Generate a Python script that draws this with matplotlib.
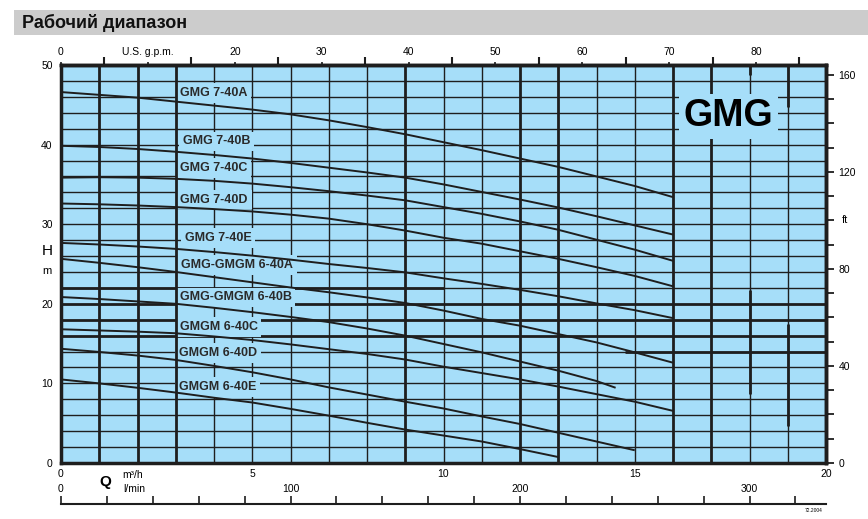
import matplotlib
matplotlib.use('Agg')
import matplotlib.pyplot as plt
from matplotlib.patches import Rectangle

plt.rcParams['font.family'] = ['Liberation Sans', 'DejaVu Sans']

# Q in m3/h, H in m
q_16 = [0, 1, 2, 3, 4, 5, 6, 7, 8, 9, 10, 11, 12, 13, 14, 15, 16]
h_7_40a = [46.6, 46.25, 45.9, 45.4, 44.9, 44.4, 43.8, 43.05, 42.2, 41.3, 40.3, 39.3, 38.25, 37.2, 36.0, 34.8, 33.4]
h_7_40b = [39.85, 39.7, 39.45, 39.1, 38.7, 38.25, 37.7, 37.1, 36.5, 35.85, 35.0, 34.05, 33.1, 32.1, 31.0, 29.85, 28.7]
h_7_40c = [35.85, 35.9, 35.85, 35.7, 35.45, 35.1, 34.65, 34.15, 33.6, 33.0, 32.15, 31.3, 30.35, 29.3, 28.05, 26.8, 25.4]
h_7_40d = [32.6, 32.5, 32.35, 32.15, 31.9, 31.6, 31.2, 30.7, 30.0, 29.2, 28.3, 27.55, 26.6, 25.65, 24.6, 23.5, 22.2]
h_7_40e = [27.65, 27.45, 27.2, 26.9, 26.5, 26.05, 25.55, 25.0, 24.5, 23.95, 23.2, 22.5, 21.75, 20.95, 20.05, 19.2, 18.2]
h_6_40a = [25.65, 25.15, 24.6, 24.0, 23.35, 22.7, 22.05, 21.45, 20.8, 20.1, 19.15, 18.1, 17.25, 16.2, 15.15, 13.9, 12.6]
q_6_40b = [0, 1, 2, 3, 4, 5, 6, 7, 8, 9, 10, 11, 12, 13, 14, 14.5]
h_6_40b = [20.85, 20.6, 20.3, 20.0, 19.5, 18.95, 18.35, 17.7, 16.9, 16.0, 14.95, 13.9, 12.75, 11.6, 10.3, 9.45]
h_6_40c = [16.8, 16.65, 16.5, 16.3, 15.9, 15.45, 14.9, 14.3, 13.7, 13.0, 12.1, 11.3, 10.5, 9.6, 8.65, 7.7, 6.55]
q_6_40d = [0, 1, 2, 3, 4, 5, 6, 7, 8, 9, 10, 11, 12, 13, 14, 15]
h_6_40d = [14.35, 13.95, 13.5, 12.95, 12.2, 11.4, 10.5, 9.5, 8.6, 7.7, 6.85, 5.85, 4.9, 3.8, 2.7, 1.6]
q_6_40e = [0, 1, 2, 3, 4, 5, 6, 7, 8, 9, 10, 11, 12, 13]
h_6_40e = [10.5, 10.0, 9.45, 8.85, 8.2, 7.6, 6.8, 5.95, 5.05, 4.2, 3.45, 2.7, 1.75, 0.75]

curves = [
    ("GMG 7-40A", q_16, h_7_40a, 46.5),
    ("GMG 7-40B", q_16, h_7_40b, 40.4),
    ("GMG 7-40C", q_16, h_7_40c, 37.05),
    ("GMG 7-40D", q_16, h_7_40d, 33.1),
    ("GMG 7-40E", q_16, h_7_40e, 28.25),
    ("GMG-GMGM 6-40A", q_16, h_6_40a, 24.85),
    ("GMG-GMGM 6-40B", q_6_40b, h_6_40b, 20.8),
    ("GMGM 6-40C", q_16, h_6_40c, 17.1),
    ("GMGM 6-40D", q_6_40d, h_6_40d, 13.8),
    ("GMGM 6-40E", q_6_40e, h_6_40e, 9.55),
]
label_q = [3.12, 3.19, 3.12, 3.12, 3.23, 3.14, 3.1, 3.1, 3.08, 3.08]

gpm_ticks = [0, 10, 20, 30, 40, 50, 60, 70, 80]
gpm_labels = ['0', 'U.S. g.p.m.', '20', '30', '40', '50', '60', '70', '80']
lmin_labels = [0, 100, 200, 300]

bg = '#a6def9'
ink = '#1e1e1e'

W, Hpx = 868, 519
fig = plt.figure(figsize=(W / 100, Hpx / 100), dpi=100)

# barra del titolo
fig.patches.append(Rectangle((14 / W, 1 - 35 / Hpx), (W - 14) / W, 25 / Hpx,
                             transform=fig.transFigure, fc='#cccccc', ec='none'))
fig.text(22 / W, 1 - 22.5 / Hpx, 'Рабочий диапазон', fontsize=13, fontweight='bold',
         va='center', ha='left', color='#111111')

ax = fig.add_axes([61 / W, 56 / Hpx, 765 / W, 398 / Hpx])
ax.set_facecolor(bg)
ax.set_xlim(0, 20)
ax.set_ylim(0, 50)

# griglia (le linee 1-3 restano sopra le etichette)
thick_q = [1, 2, 3, 9, 12, 13, 16, 17]
thick_h = [16, 18, 20]
for q in range(1, 20):
    ax.axvline(q, color=ink, lw=2.0 if q in thick_q else 1.0,
               zorder=2.5 if q <= 3 else 1)
for h in range(2, 50, 2):
    ax.axhline(h, color=ink, lw=2.0 if h in thick_h else 1.0, zorder=1)
ax.hlines(22, 0, 10, color=ink, lw=2.0, zorder=1)
ax.hlines(14, 14.75, 20, color=ink, lw=2.0, zorder=1)
ax.vlines(18, 8.7, 21.7, color=ink, lw=2.0, zorder=1)
ax.vlines(18, 48.7, 50, color=ink, lw=2.0, zorder=1)
ax.vlines(19, 4.7, 17.5, color=ink, lw=2.0, zorder=1)
ax.vlines(19, 44.7, 50, color=ink, lw=2.0, zorder=1)

for (name, qs, hs, ly), lq in zip(curves, label_q):
    ax.plot(qs, hs, color=ink, lw=1.4, zorder=3, solid_capstyle='butt')
    ax.text(lq, ly, name, fontsize=9, fontweight='bold', color='#2a2a2a',
            ha='left', va='center', zorder=2,
            bbox=dict(boxstyle='square,pad=0.3', fc=bg, ec='none'))

ax.text(17.46, 43.55, 'GMG', fontsize=27, fontweight='bold', color='black',
        ha='center', va='center', zorder=2,
        bbox=dict(boxstyle='square,pad=0.12', fc=bg, ec='none'))

for s in ax.spines.values():
    s.set_linewidth(2.5)
    s.set_color(ink)
    s.set_zorder(4)

ax.set_xticks(range(0, 21, 5))
ax.set_yticks(range(0, 51, 10))
ax.tick_params(axis='both', length=0, labelsize=7.5, colors='black')
ax.tick_params(axis='x', pad=4)
ax.tick_params(axis='y', pad=6)

# asse superiore in U.S. g.p.m.
top = ax.secondary_xaxis('top', functions=(lambda q: q * 4.40287, lambda g: g / 4.40287))
top.set_xticks(gpm_ticks)
top.set_xticklabels(gpm_labels)
top.set_xticks([5, 15, 25, 35, 45, 55, 65, 75, 85], minor=True)
top.tick_params(which='major', length=2.5, width=1.2, pad=3.5, labelsize=7.5, color=ink)
top.tick_params(which='minor', length=5.5, width=1.5, color=ink)
top.spines['top'].set_linewidth(2.5)

# asse destro in ft
right = ax.secondary_yaxis('right', functions=(lambda m: m * 3.28084, lambda f: f / 3.28084))
right.set_yticks([0, 40, 80, 120, 160])
right.set_yticks([10, 20, 30, 50, 60, 70, 90, 100, 110, 130, 140, 150], minor=True)
right.tick_params(which='both', length=6, width=1.3, color=ink)
right.tick_params(which='major', labelsize=7.5, pad=3)
right.spines['right'].set_linewidth(2.5)

# assi in l/min
lmin_lab = ax.secondary_xaxis(-0.045, functions=(lambda q: q * 1000 / 60, lambda l: l * 60 / 1000))
lmin_lab.set_xticks(lmin_labels)
lmin_lab.tick_params(length=0, pad=2, labelsize=7.5)
lmin_lab.spines['bottom'].set_visible(False)

lmin = ax.secondary_xaxis(-0.103, functions=(lambda q: q * 1000 / 60, lambda l: l * 60 / 1000))
lmin.set_xticks(range(0, 321, 20))
lmin.tick_params(direction='in', length=5.5, width=1.2, labelbottom=False, color=ink)
lmin.spines['bottom'].set_linewidth(1.5)
lmin.spines['bottom'].set_color(ink)

# etichette degli assi
fig.text(47 / W, 1 - 251 / Hpx, 'H', fontsize=11, ha='center', va='center')
fig.text(47 / W, 1 - 271 / Hpx, 'm', fontsize=8, ha='center', va='center')
fig.text(845 / W, 1 - 220 / Hpx, 'ft', fontsize=8, ha='center', va='center')
fig.text(105 / W, 1 - 482 / Hpx, 'Q', fontsize=11, fontweight='bold', ha='center', va='center')
fig.text(122 / W, 1 - 475 / Hpx, 'm³/h', fontsize=7.5, ha='left', va='center')
fig.text(123 / W, 1 - 489 / Hpx, 'l/min', fontsize=7.5, ha='left', va='center')
fig.text(814 / W, 1 - 510 / Hpx, '72.2004', fontsize=3.5, ha='center', va='center')

fig.savefig('out.png', dpi=100)
